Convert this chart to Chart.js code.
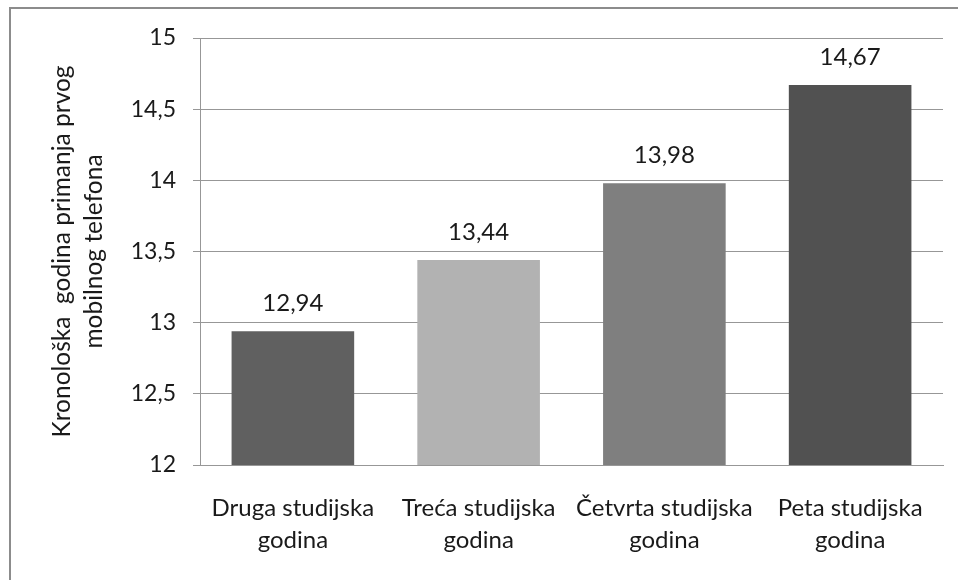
<!DOCTYPE html>
<html>
<head>
<meta charset="utf-8">
<script src="https://cdn.jsdelivr.net/npm/chart.js@4/dist/chart.umd.min.js"></script>
<style>
    html, body { margin: 0; padding: 0; background: #fff; }
    #wrap { position: relative; width: 958px; height: 580px; overflow: hidden; }
    #frame {
        position: absolute; left: 9px; top: 7px; width: 1000px; height: 1000px;
        border-top: 2px solid #8c8c8c; border-left: 2px solid #8c8c8c;
    }
    canvas { position: absolute; left: 0; top: 0; }
</style>
</head>
<body>
<div id="wrap">
    <div id="frame"></div>
    <canvas id="chart" width="958" height="580"></canvas>
</div>
<script>
const categories = [
    ['Druga studijska', 'godina'],
    ['Treća studijska', 'godina'],
    ['Četvrta studijska', 'godina'],
    ['Peta studijska', 'godina']
];
const values = [12.94, 13.44, 13.98, 14.67];
const barColors = ['#606060', '#b2b2b2', '#7f7f7f', '#515151'];
const yTitle = ['Kronološka  godina primanja prvog', 'mobilnog telefona'];

const FONT = 'Lato, "Open Sans", sans-serif';
const TEXT = '#1a1a1a';
const GRID = '#979797';

const comma = v => String(v).replace('.', ',');

// value labels above each bar
const barLabels = {
    id: 'barLabels',
    afterDatasetsDraw(chart) {
        const ctx = chart.ctx;
        const meta = chart.getDatasetMeta(0);
        ctx.save();
        ctx.font = '24px ' + FONT;
        ctx.fillStyle = TEXT;
        ctx.textAlign = 'center';
        ctx.textBaseline = 'middle';
        meta.data.forEach((bar, i) => {
            ctx.fillText(comma(values[i].toFixed(2)), bar.x, bar.y - 28);
        });
        ctx.restore();
    }
};

new Chart(document.getElementById('chart'), {
    type: 'bar',
    data: {
        labels: categories,
        datasets: [{
            data: values,
            backgroundColor: barColors,
            borderWidth: 0,
            categoryPercentage: 1,
            barPercentage: 0.66
        }]
    },
    options: {
        responsive: false,
        animation: false,
        layout: { padding: { top: 38, right: 15, bottom: 0, left: 0 } },
        plugins: {
            legend: { display: false },
            tooltip: { enabled: false }
        },
        scales: {
            x: {
                grid: { display: false },
                border: { display: true, color: GRID, width: 1 },
                ticks: {
                    color: TEXT,
                    padding: 19,
                    maxRotation: 0,
                    autoSkip: false,
                    font: { family: FONT, size: 24, lineHeight: 1.35 }
                },
                afterFit(scale) { scale.height = 115; }
            },
            y: {
                min: 12,
                max: 15,
                grid: { color: GRID, tickLength: 7, lineWidth: 1 },
                border: { display: true, color: GRID, width: 1 },
                ticks: {
                    stepSize: 0.5,
                    color: TEXT,
                    padding: 17,
                    font: { family: FONT, size: 23 },
                    callback: v => comma(v)
                },
                title: {
                    display: true,
                    text: yTitle,
                    color: TEXT,
                    padding: { top: 47, bottom: 0 },
                    font: { family: FONT, size: 24.5, lineHeight: 1.27 }
                },
                afterFit(scale) { scale.width = 200; }
            }
        }
    },
    plugins: [barLabels]
});
</script>
</body>
</html>
